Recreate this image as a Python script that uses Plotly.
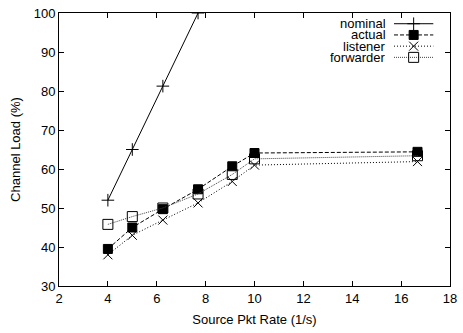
import plotly.graph_objects as go

rates = [4, 5, 6.25, 7.69, 9.09, 10, 16.67]
nominal_x = [4, 5, 6.25, 7.69]
nominal = [52, 65, 81.25, 100]
actual = [39.5, 45, 49.7, 54.8, 60.7, 64.1, 64.4]
listener = [38, 43, 46.9, 51.3, 56.8, 61, 61.9]
forwarder = [45.8, 47.8, 50, 53.6, 58.6, 62.6, 63.4]

names = ["nominal", "actual", "listener", "forwarder"]
FONT = "Liberation Sans, Arial, sans-serif"
FS = 13

fig = go.Figure()

styles = [
    dict(dash="solid", symbol="cross-thin", size=9, color="black"),
    dict(dash="4px,2px", symbol="square", size=9, color="black"),
    dict(dash="1px,2px", symbol="x-thin", size=9, color="black"),
    dict(dash="1px,1px", symbol="square-open", size=10, color="#444"),
]
series = [(nominal_x, nominal), (rates, actual), (rates, listener), (rates, forwarder)]

for (xs, ys), st, nm in zip(series, styles, names):
    fig.add_trace(go.Scatter(
        x=xs, y=ys, mode="lines+markers", name=nm, showlegend=False,
        line=dict(color=st["color"], width=1, dash=st["dash"]),
        marker=dict(symbol=st["symbol"], size=st["size"], color="black",
                    line=dict(color="black", width=1)),
    ))

# custom gnuplot-style key on an overlay pixel axis
key_rows = [17, 28.5, 40, 51.5]
for row, st, nm in zip(key_rows, styles, names):
    fig.add_trace(go.Scatter(
        x=[400, 420, 440], y=[row, row, row], xaxis="x2", yaxis="y2",
        mode="lines", showlegend=False, hoverinfo="skip",
        line=dict(color=st["color"], width=1, dash=st["dash"]),
    ))
    fig.add_trace(go.Scatter(
        x=[420], y=[row], xaxis="x2", yaxis="y2",
        mode="markers", showlegend=False, hoverinfo="skip",
        marker=dict(symbol=st["symbol"], size=st["size"], color="black",
                    line=dict(color="black", width=1)),
    ))
    fig.add_annotation(x=393, y=row, xref="x2", yref="y2", text=nm,
                       showarrow=False, xanchor="right", yanchor="middle",
                       borderpad=0, height=11,
                       font=dict(family=FONT, size=FS, color="black"))

axis_common = dict(
    showgrid=False, zeroline=False, showline=True, linecolor="black", linewidth=1,
    mirror="ticks", ticks="inside", ticklen=5, tickcolor="black", tickwidth=1,
    tickfont=dict(family=FONT, size=FS, color="black"),
    ticklabeloverflow="allow",
)

fig.update_layout(
    width=463, height=333,
    margin=dict(l=59, r=6, t=6, b=47),
    paper_bgcolor="white", plot_bgcolor="white",
    font=dict(family=FONT, size=FS, color="black"),
    xaxis=dict(range=[2, 18], dtick=2, tick0=2,
               title=dict(text="Source Pkt Rate (1/s)", standoff=10,
                          font=dict(family=FONT, size=FS)), **axis_common),
    yaxis=dict(range=[30, 100], dtick=10, tick0=30,
               title=dict(text="Channel Load (%)", standoff=10,
                          font=dict(family=FONT, size=FS)), **axis_common),
    xaxis2=dict(range=[59, 457], overlaying="x", visible=False, fixedrange=True),
    yaxis2=dict(range=[286, 6], overlaying="y", visible=False, fixedrange=True),
    showlegend=False,
)

fig.write_html("out.html")
